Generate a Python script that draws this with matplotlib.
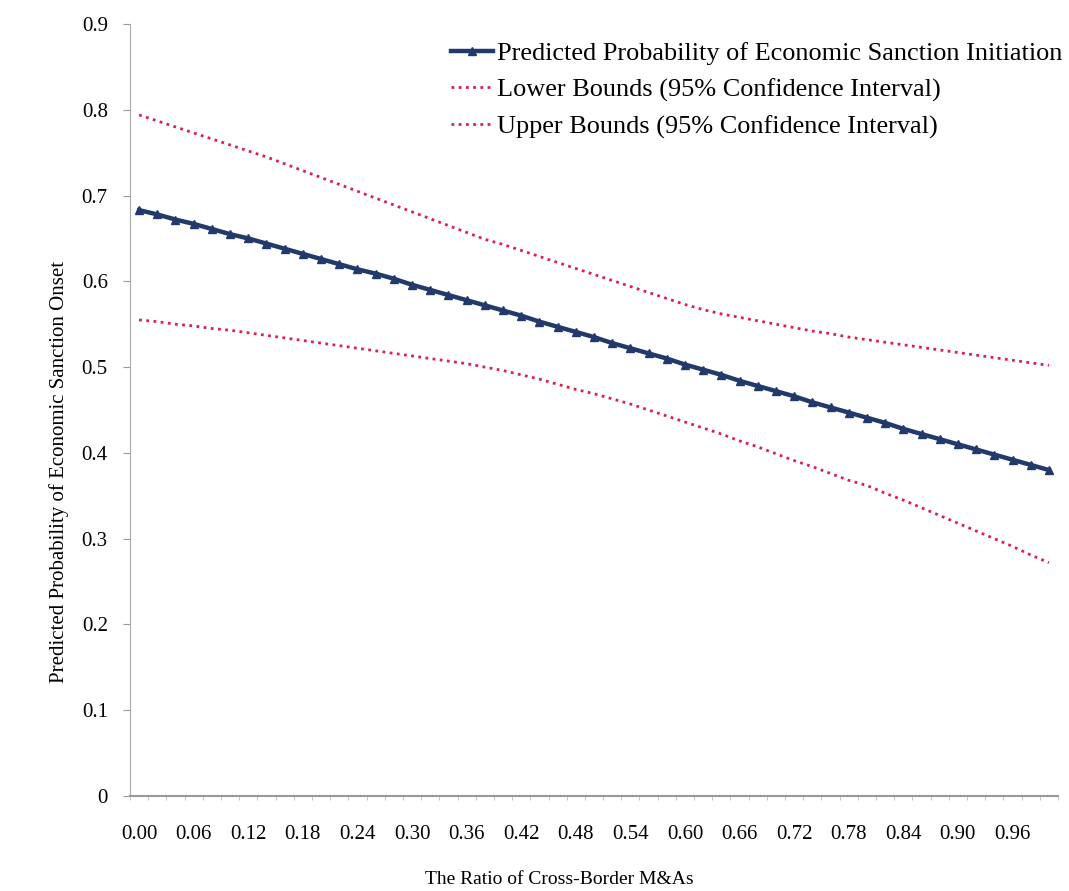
import numpy as np
import matplotlib
matplotlib.use("Agg")
import matplotlib.pyplot as plt

# ratio of cross-border M&As, 0.00 .. 1.00 in steps of 0.02 (categories)
ratio = [round(0.02 * i, 2) for i in range(51)]

predicted = [0.683, 0.678, 0.672, 0.667, 0.661, 0.655, 0.650, 0.644, 0.638, 0.632,
             0.626, 0.620, 0.614, 0.609, 0.603, 0.596, 0.590, 0.584, 0.578, 0.572,
             0.566, 0.560, 0.553, 0.547, 0.541, 0.535, 0.528, 0.522, 0.516, 0.510,
             0.503, 0.497, 0.491, 0.484, 0.478, 0.472, 0.466, 0.459, 0.453, 0.447,
             0.441, 0.435, 0.428, 0.422, 0.416, 0.410, 0.404, 0.398, 0.392, 0.386,
             0.380]

lower = [0.555, 0.553, 0.550, 0.548, 0.545, 0.543, 0.540, 0.537, 0.534, 0.531,
         0.528, 0.525, 0.522, 0.519, 0.516, 0.513, 0.510, 0.507, 0.504, 0.500,
         0.496, 0.491, 0.486, 0.480, 0.474, 0.469, 0.463, 0.457, 0.450, 0.443,
         0.436, 0.429, 0.422, 0.414, 0.407, 0.399, 0.391, 0.384, 0.376, 0.368,
         0.362, 0.353, 0.345, 0.336, 0.327, 0.318, 0.309, 0.300, 0.291, 0.281,
         0.272]

upper = [0.794, 0.787, 0.780, 0.773, 0.766, 0.759, 0.752, 0.745, 0.737, 0.729,
         0.721, 0.713, 0.705, 0.697, 0.689, 0.681, 0.673, 0.665, 0.657, 0.649,
         0.643, 0.636, 0.629, 0.622, 0.615, 0.608, 0.601, 0.594, 0.587, 0.580,
         0.573, 0.567, 0.562, 0.558, 0.554, 0.550, 0.546, 0.542, 0.539, 0.535,
         0.532, 0.529, 0.526, 0.523, 0.520, 0.517, 0.514, 0.511, 0.508, 0.505,
         0.502]

yticks = [0, 0.1, 0.2, 0.3, 0.4, 0.5, 0.6, 0.7, 0.8, 0.9]
ytick_labels = ["0", "0.1", "0.2", "0.3", "0.4", "0.5", "0.6", "0.7", "0.8", "0.9"]

plt.rcParams['font.family'] = ['Liberation Serif', 'DejaVu Serif']

fig = plt.figure(figsize=(10.69, 8.91), dpi=100)
ax = fig.add_axes([130 / 1069, 1 - 796 / 891, (1058 - 130) / 1069, (796 - 24) / 891])

pos = np.arange(len(ratio))
blue = "#22396b"
red = "#d9204f"

ax.plot(pos, predicted, color=blue, lw=3.2, marker="^", ms=5.5,
        label="Predicted Probability of Economic Sanction Initiation")
ax.plot(pos, lower, color=red, lw=2, dashes=(1, 1.6),
        label="Lower Bounds (95% Confidence Interval)")
ax.plot(pos, upper, color=red, lw=2, dashes=(1, 1.6),
        label="Upper Bounds (95% Confidence Interval)")

ax.set_xlim(-0.5, len(ratio) - 0.5)
ax.set_ylim(0, 0.9)
ax.set_yticks(yticks)
ax.set_yticklabels(ytick_labels, fontsize=15)

# labels every third category, ticks at category boundaries
ax.set_xticks(pos[::3])
ax.set_xticklabels(["%.2f" % r for r in ratio[::3]], fontsize=15)
ax.tick_params(axis="x", which="major", length=0, pad=21)
ax.set_xticks(np.arange(-0.5, len(ratio), 1), minor=True)
ax.tick_params(axis="x", which="minor", length=3, color="#bbbbbb")
ax.tick_params(axis="y", length=5, color="#999999", pad=11)

for s in ["top", "right"]:
    ax.spines[s].set_visible(False)
ax.spines["left"].set_color("#aaaaaa")
ax.spines["bottom"].set_color("#999999")
ax.spines["bottom"].set_linewidth(1.5)

ax.set_ylabel("Predicted Probability of Economic Sanction Onset", fontsize=15)
ax.yaxis.set_label_coords(-0.066, 0.42)
fig.text(559 / 1069, 1 - 880 / 891, "The Ratio of Cross-Border M&As",
         fontsize=14, ha="center", va="center")

leg = ax.legend(loc="upper right", bbox_to_anchor=(1.03, 1.008), frameon=False,
                fontsize=18.9, handlelength=1.6, handletextpad=0.15, labelspacing=0.5)

fig.savefig("out.png", dpi=100, facecolor="white")
